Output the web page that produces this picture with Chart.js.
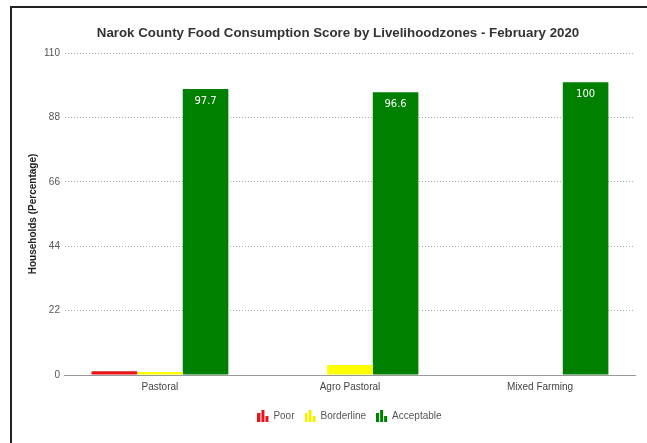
<!DOCTYPE html>
<html>
<head>
<meta charset="utf-8">
<script src="https://cdn.jsdelivr.net/npm/chart.js@4.4.1/dist/chart.umd.min.js"></script>
<style>
  html, body { margin: 0; padding: 0; background: #fff; }
  #wrap { position: relative; width: 647px; height: 443px; overflow: hidden; }
  #frame { position: absolute; left: 10px; top: 6px; width: 700px; height: 500px;
           border-left: 2px solid #222; border-top: 2px solid #222; }
  #chart { position: absolute; left: 0; top: 0; }
</style>
</head>
<body>
<div id="wrap">
  <canvas id="chart" width="647" height="443"></canvas>
  <div id="frame"></div>
</div>
<script>
var zones = ["Pastoral", "Agro Pastoral", "Mixed Farming"];
var poor = [1.3, 0, 0];
var borderline = [1.0, 3.4, 0];
var acceptable = [97.7, 96.6, 100];
var yTicks = [0, 22, 44, 66, 88, 110];
var chartTitle = "Narok County Food Consumption Score by Livelihoodzones - February 2020";

function barIcon(color) {
  var c = document.createElement('canvas');
  c.width = 12; c.height = 12;
  var g = c.getContext('2d');
  g.fillStyle = color;
  g.fillRect(0, 3, 3, 9);
  g.fillRect(4, 0, 3, 12);
  g.fillRect(8, 6, 3, 6);
  return c;
}

var headline = {
  id: 'headline',
  afterDraw: function(chart) {
    var ctx = chart.ctx;
    ctx.save();
    ctx.font = 'bold 13.3px "Liberation Sans", Arial, sans-serif';
    ctx.fillStyle = '#333';
    ctx.textAlign = 'center';
    ctx.textBaseline = 'middle';
    ctx.fillText(chartTitle, 338, 33);
    ctx.restore();
  }
};

var valueLabels = {
  id: 'valueLabels',
  afterDatasetsDraw: function(chart) {
    var ctx = chart.ctx;
    var meta = chart.getDatasetMeta(2);
    ctx.save();
    ctx.font = '10px "DejaVu Sans", sans-serif';
    ctx.fillStyle = '#fff';
    ctx.textAlign = 'center';
    ctx.textBaseline = 'middle';
    meta.data.forEach(function(bar, i) {
      ctx.fillText(String(acceptable[i]), bar.x, bar.y + 12);
    });
    ctx.restore();
  }
};

var font = { family: '"Liberation Sans", Arial, sans-serif', size: 10 };

chart = new Chart("chart", {
  type: 'bar',
  data: {
    labels: zones,
    datasets: [
      { label: 'Poor', data: poor, backgroundColor: '#e8141a', pointStyle: barIcon('#e8141a') },
      { label: 'Borderline', data: borderline, backgroundColor: '#ffff00', pointStyle: barIcon('#f2f200') },
      { label: 'Acceptable', data: acceptable, backgroundColor: '#008000', pointStyle: barIcon('#008000') }
    ]
  },
  options: {
    responsive: false,
    animation: false,
    categoryPercentage: 0.72,
    barPercentage: 1.0,
    layout: { padding: { top: 53, left: 26, right: 12, bottom: 12 } },
    plugins: {
      title: { display: false },
      tooltip: { enabled: false },
      legend: {
        position: 'bottom',
        fullSize: false,
        labels: {
          usePointStyle: true,
          boxWidth: 12, boxHeight: 12,
          padding: 11,
          color: '#555',
          font: { family: font.family, size: 10 }
        }
      }
    },
    scales: {
      x: {
        grid: { display: false, drawTicks: false },
        border: { display: true, color: '#999', width: 1 },
        ticks: { color: '#444', font: font, padding: 6 },
        afterFit: function(axis) { axis.height += 1; }
      },
      y: {
        min: 0, max: 110,
        afterBuildTicks: function(axis) {
          axis.ticks = yTicks.map(function(v) { return { value: v }; });
        },
        grid: { color: '#aaa', drawTicks: false, lineWidth: 1 },
        border: { display: false, dash: [1, 2] },
        ticks: { color: '#555', font: font, padding: 5 },
        title: {
          display: true,
          text: 'Households (Percentage)',
          color: '#222',
          font: { family: font.family, size: 10, weight: 'bold' },
          padding: { top: 1, bottom: 0 }
        }
      }
    }
  },
  plugins: [headline, valueLabels]
});
</script>
</body>
</html>
